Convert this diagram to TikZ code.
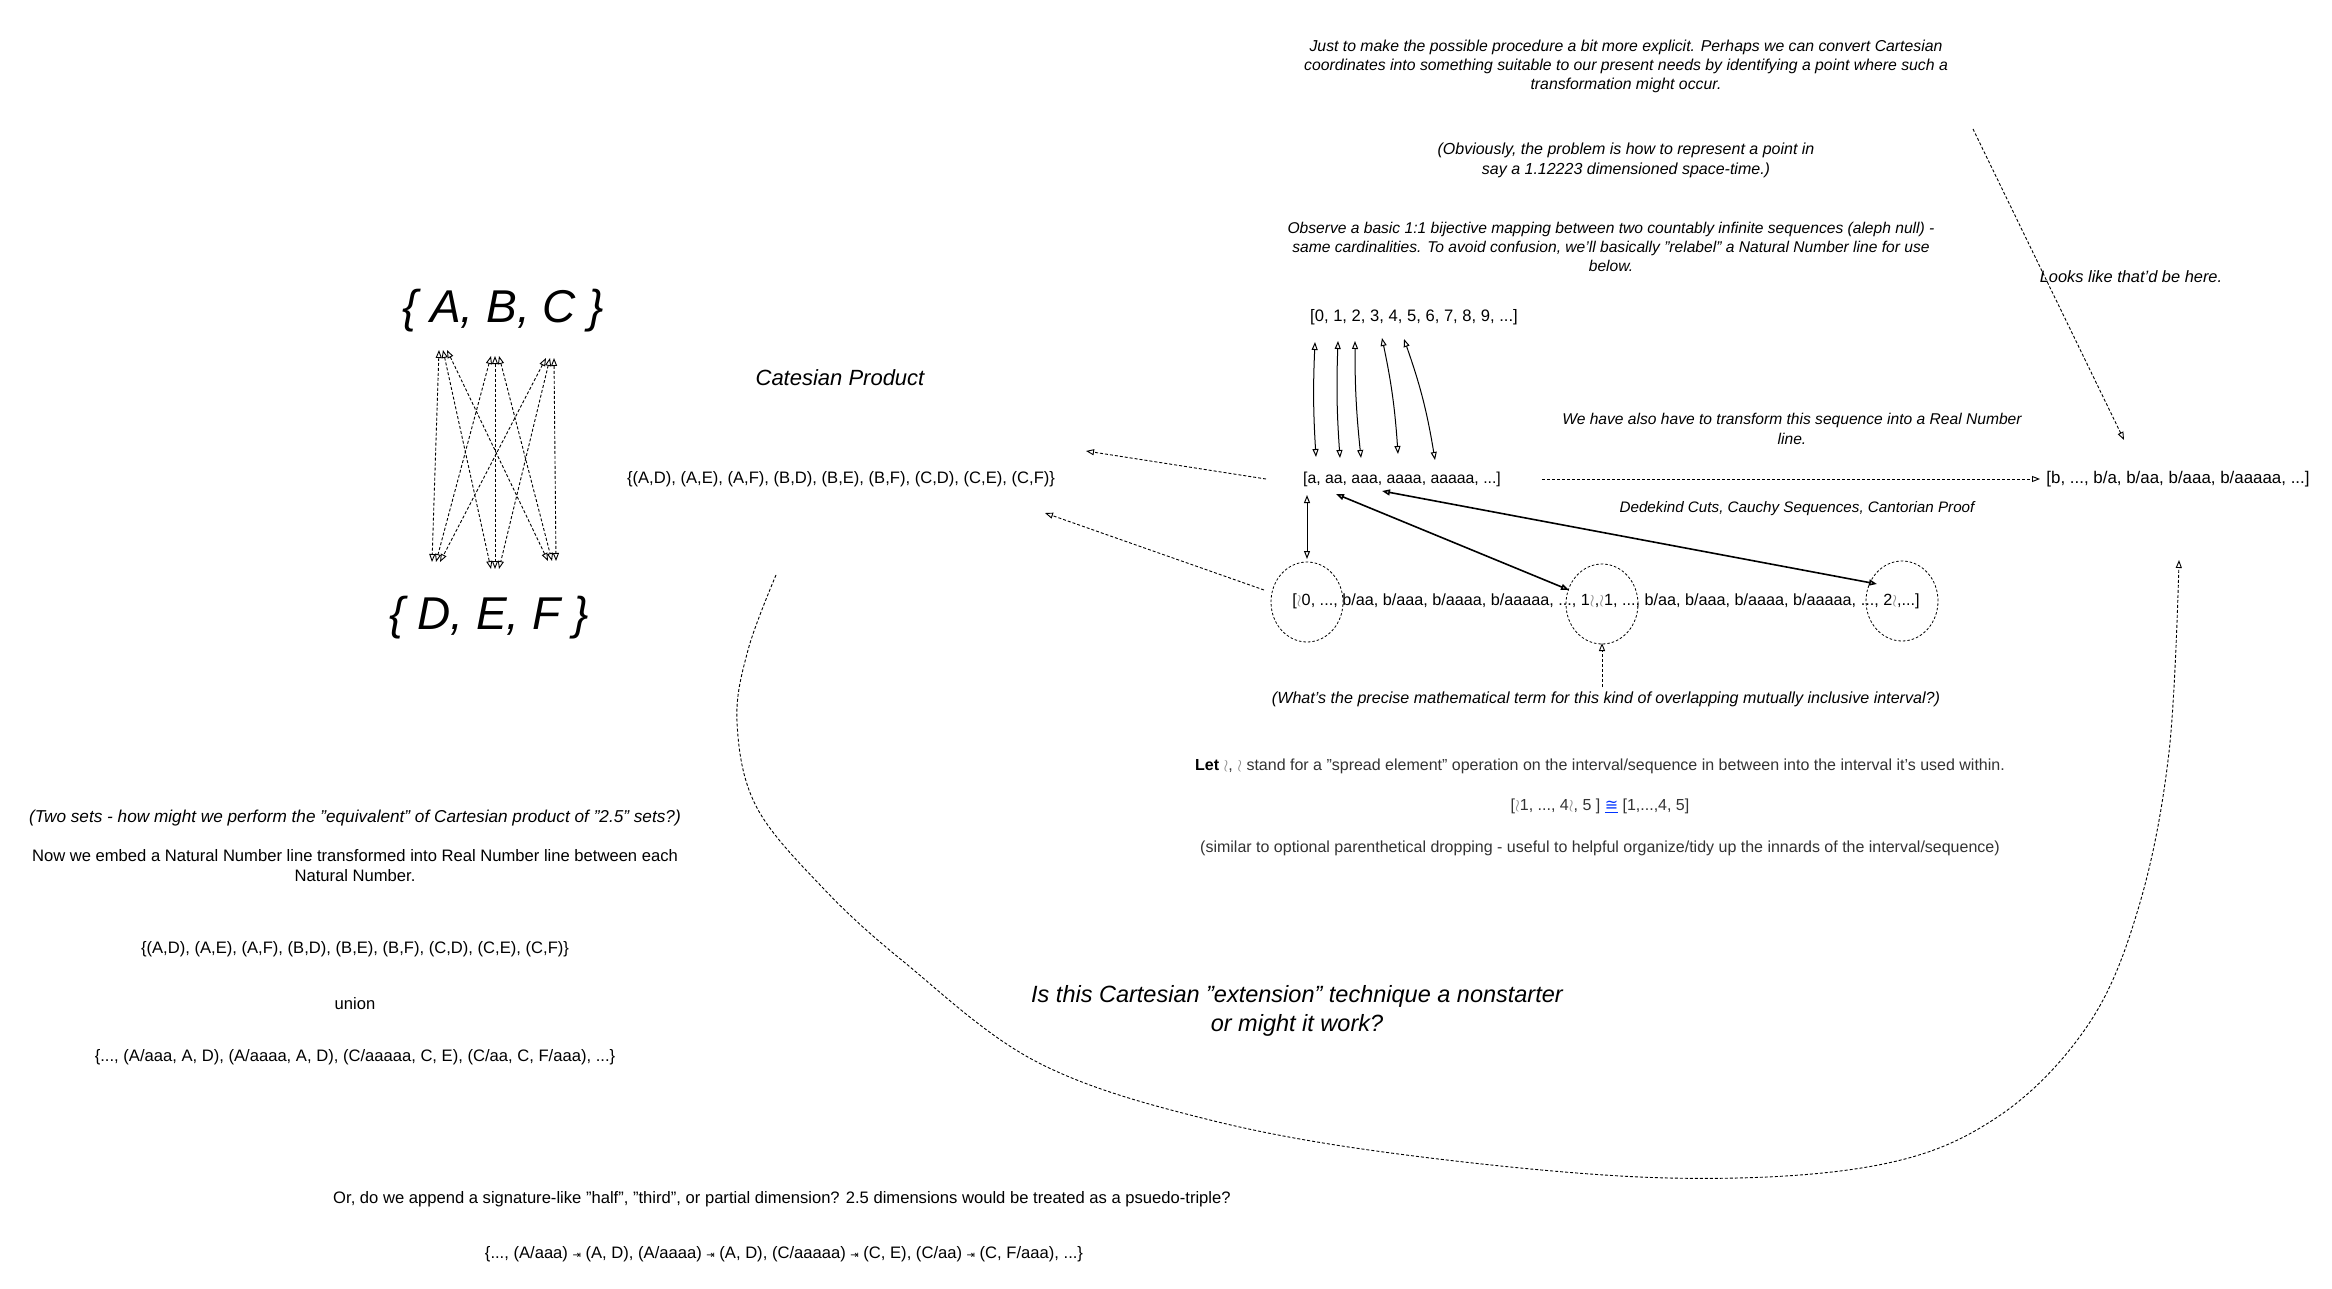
\documentclass[tikz,border=0pt]{standalone}
\usepackage{fontspec}
\setmainfont{Liberation Sans}
\newfontfamily\dejavu{DejaVu Sans}
\usetikzlibrary{arrows.meta,shapes.geometric}
\newcommand{\zz}{{\color{black!45}$\wr$}}
\newcommand{\tobar}{{\dejavu\fontsize{10}{10}\selectfont ⇥}}
\newcommand{\fs}[2]{\fontsize{#1}{#2}\selectfont}
\tikzset{
  every node/.style={inner sep=0pt, outer sep=0pt, align=center, text=black},
  it/.style={font=\fs{15.8}{19}\itshape},
  rm/.style={font=\fs{16.6}{20}},
  bigit/.style={font=\fs{23.5}{29}\itshape},
  setfont/.style={font=\fs{46}{50}\itshape},
  ar/.style={font=\fs{16}{19}, text=black!80},
  dconn/.style={line width=0.9pt, dash pattern=on 3pt off 2pt},
  sconn/.style={line width=1pt},
  hconn/.style={line width=1.6pt},
  ring/.style={ellipse, draw, line width=0.8pt, dash pattern=on 2.5pt off 2pt, minimum width=72pt, minimum height=80pt},
  >={Triangle[open, length=8pt, width=6pt]}
}
\begin{document}
\begin{tikzpicture}[x=1pt, y=-1pt]
\fill[white] (0,0) rectangle (2332,1289);
\useasboundingbox (0,0) rectangle (2332,1289);

% --- left: sets ---
\node[setfont] (abc) at (503,311) {\{ A, B, C \}};
\node[setfont] (def) at (489,618) {\{ D, E, F \}};
\coordinate (a1) at (443,350);
\coordinate (a2) at (495,356);
\coordinate (a3) at (550,358);
\coordinate (d1) at (436,562);
\coordinate (d2) at (495,569);
\coordinate (d3) at (552,561);
\foreach \i in {1,2,3}{
  \foreach \j in {1,2,3}{
    \draw[dconn, <->] ([xshift={(\j-2)*4pt}]a\i) -- ([xshift={(\i-2)*4pt}]d\j);
  }
}

\node[font=\fs{22}{26}\itshape] (cp) at (840,378) {Catesian Product};
\node[rm] (cart) at (841,479) {\{(A,D), (A,E), (A,F), (B,D), (B,E), (B,F), (C,D), (C,E), (C,F)\}};

% --- top texts ---
\node[it] (t1) at (1626,66) {Just to make the possible procedure a bit more explicit. Perhaps we can convert Cartesian\\coordinates into something suitable to our present needs by identifying a point where such a\\transformation might occur.};
\node[it, font=\fs{16}{20}\itshape] (t2) at (1626,160) {(Obviously, the problem is how to represent a point in\\say a 1.12223 dimensioned space-time.)};
\node[it, font=\fs{15.6}{19}\itshape] (t3) at (1611,247) {Observe a basic 1:1 bijective mapping between two countably infinite sequences (aleph null) -\\same cardinalities. To avoid confusion, we'll basically "relabel" a Natural Number line for use\\below.};
\node[it, font=\fs{16.4}{19}\itshape] (looks) at (2131,277) {Looks like that'd be here.};

% --- sequences ---
\node[rm] (nat) at (1414,317) {[0, 1, 2, 3, 4, 5, 6, 7, 8, 9, ...]};
\node[rm, font=\fs{15.8}{20}] (seqa) at (1402,479) {[a, aa, aaa, aaaa, aaaaa, ...]};
\node[rm, font=\fs{16.9}{20}] (seqb) at (2178,479) {[b, ..., b/a, b/aa, b/aaa, b/aaaaa, ...]};
\node[it, font=\fs{15.6}{20}\itshape] (trans) at (1792,429) {We have also have to transform this sequence into a Real Number\\line.};
\node[it, font=\fs{15.2}{19}\itshape] (dede) at (1797,509) {Dedekind Cuts, Cauchy Sequences, Cantorian Proof};

\coordinate (n1t) at (1315,342); \coordinate (n1b) at (1316,457);
\coordinate (n2t) at (1338,341); \coordinate (n2b) at (1340,458);
\coordinate (n3t) at (1355,341); \coordinate (n3b) at (1361,458);
\coordinate (n4t) at (1382,338); \coordinate (n4b) at (1398,454);
\coordinate (n5t) at (1404,339); \coordinate (n5b) at (1435,460);
\draw[sconn, <->] (n1t) to[bend right=3] (n1b);
\draw[sconn, <->] (n2t) to[bend right=3] (n2b);
\draw[sconn, <->] (n3t) to[bend right=3] (n3b);
\draw[sconn, <->] (n4t) to[bend left=4] (n4b);
\draw[sconn, <->] (n5t) to[bend left=5] (n5b);

% --- circles and overlapping interval ---
\node[ring] (c1) at (1307,602) {};
\node[ring] (c2) at (1602,604) {};
\node[ring] (c3) at (1902,601) {};
\node[rm, font=\fs{16.2}{20}] (iv) at (1606,601) {[\zz0, ..., b/aa, b/aaa, b/aaaa, b/aaaaa, ..., 1\zz,\zz1, ..., b/aa, b/aaa, b/aaaa, b/aaaaa, ..., 2\zz,...]};

\coordinate (s1) at (1307,495); \coordinate (e1) at (1307,559);
\coordinate (s2) at (1336,494); \coordinate (e2) at (1569,590);
\coordinate (s3) at (1382,491); \coordinate (e3) at (1877,584);
\draw[sconn, <->] (s1) -- (e1);
\draw[hconn, <->] (s2) -- (e2);
\draw[hconn, <->] (s3) -- (e3);

% dashed connectors
\coordinate (q1) at (1266,479); \coordinate (q2) at (1086,451);
\draw[dconn, ->] (q1) -- (q2);
\coordinate (q3) at (1264,590); \coordinate (q4) at (1045,513);
\draw[dconn, ->] (q3) -- (q4);
\coordinate (q5) at (1542,479); \coordinate (q6) at (2040,479);
\draw[dconn, ->] (q5) -- (q6);
\coordinate (q7) at (1973,129); \coordinate (q8) at (2124,440);
\draw[dconn, ->] (q7) -- (q8);
\coordinate (q9) at (1602,687); \coordinate (q10) at (1602,643);
\draw[dconn, ->] (q9) -- (q10);

\node[it, font=\fs{16.1}{19}\itshape] (what) at (1606,699) {(What's the precise mathematical term for this kind of overlapping mutually inclusive interval?)};
\node[ar] (let) at (1600,766) {\textbf{\textcolor{black}{Let}} \zz, \zz{} stand for a "spread element" operation on the interval/sequence in between into the interval it's used within.};
\node[ar] (eq) at (1600,806) {[\zz1, ..., 4\zz, 5 ] {\color{blue!80!cyan}\underline{\dejavu ≅}} [1,...,4, 5]};
\node[ar] (sim) at (1600,848) {(similar to optional parenthetical dropping - useful to helpful organize/tidy up the innards of the interval/sequence)};

% big curve
\coordinate (cs) at (776,575);
\coordinate (ce) at (2179,560);
\draw[dconn, ->] plot[smooth, tension=0.6] coordinates {(cs) (748,650) (737,722) (756,806) (822,887) (904,962) (1037,1062) (1210,1120) (1414,1156) (1669,1178) (1873,1166) (1996,1118) (2088,1025) (2139,906) (2169,752) (ce)};

\node[bigit] (quest) at (1297,1011) {Is this Cartesian "extension" technique a nonstarter\\or might it work?};

% --- left lower texts ---
\node[it, font=\fs{17.2}{20}\itshape] (two) at (355,818) {(Two sets - how might we perform the "equivalent" of Cartesian product of "2.5" sets?)};
\node[rm] (now) at (355,866) {Now we embed a Natural Number line transformed into Real Number line between each\\Natural Number.};
\node[rm] (cart2) at (355,949) {\{(A,D), (A,E), (A,F), (B,D), (B,E), (B,F), (C,D), (C,E), (C,F)\}};
\node[rm] (union) at (355,1004) {union};
\node[rm] (set3) at (355,1057) {\{..., (A/aaa, A, D), (A/aaaa, A, D), (C/aaaaa, C, E), (C/aa, C, F/aaa), ...\}};

\node[rm] (ordo) at (782,1199) {Or, do we append a signature-like "half", "third", or partial dimension? 2.5 dimensions would be treated as a psuedo-triple?};
\node[rm] (set4) at (784,1254) {\{..., (A/aaa) \tobar{} (A, D), (A/aaaa) \tobar{} (A, D), (C/aaaaa) \tobar{} (C, E), (C/aa) \tobar{} (C, F/aaa), ...\}};
\end{tikzpicture}
\end{document}
